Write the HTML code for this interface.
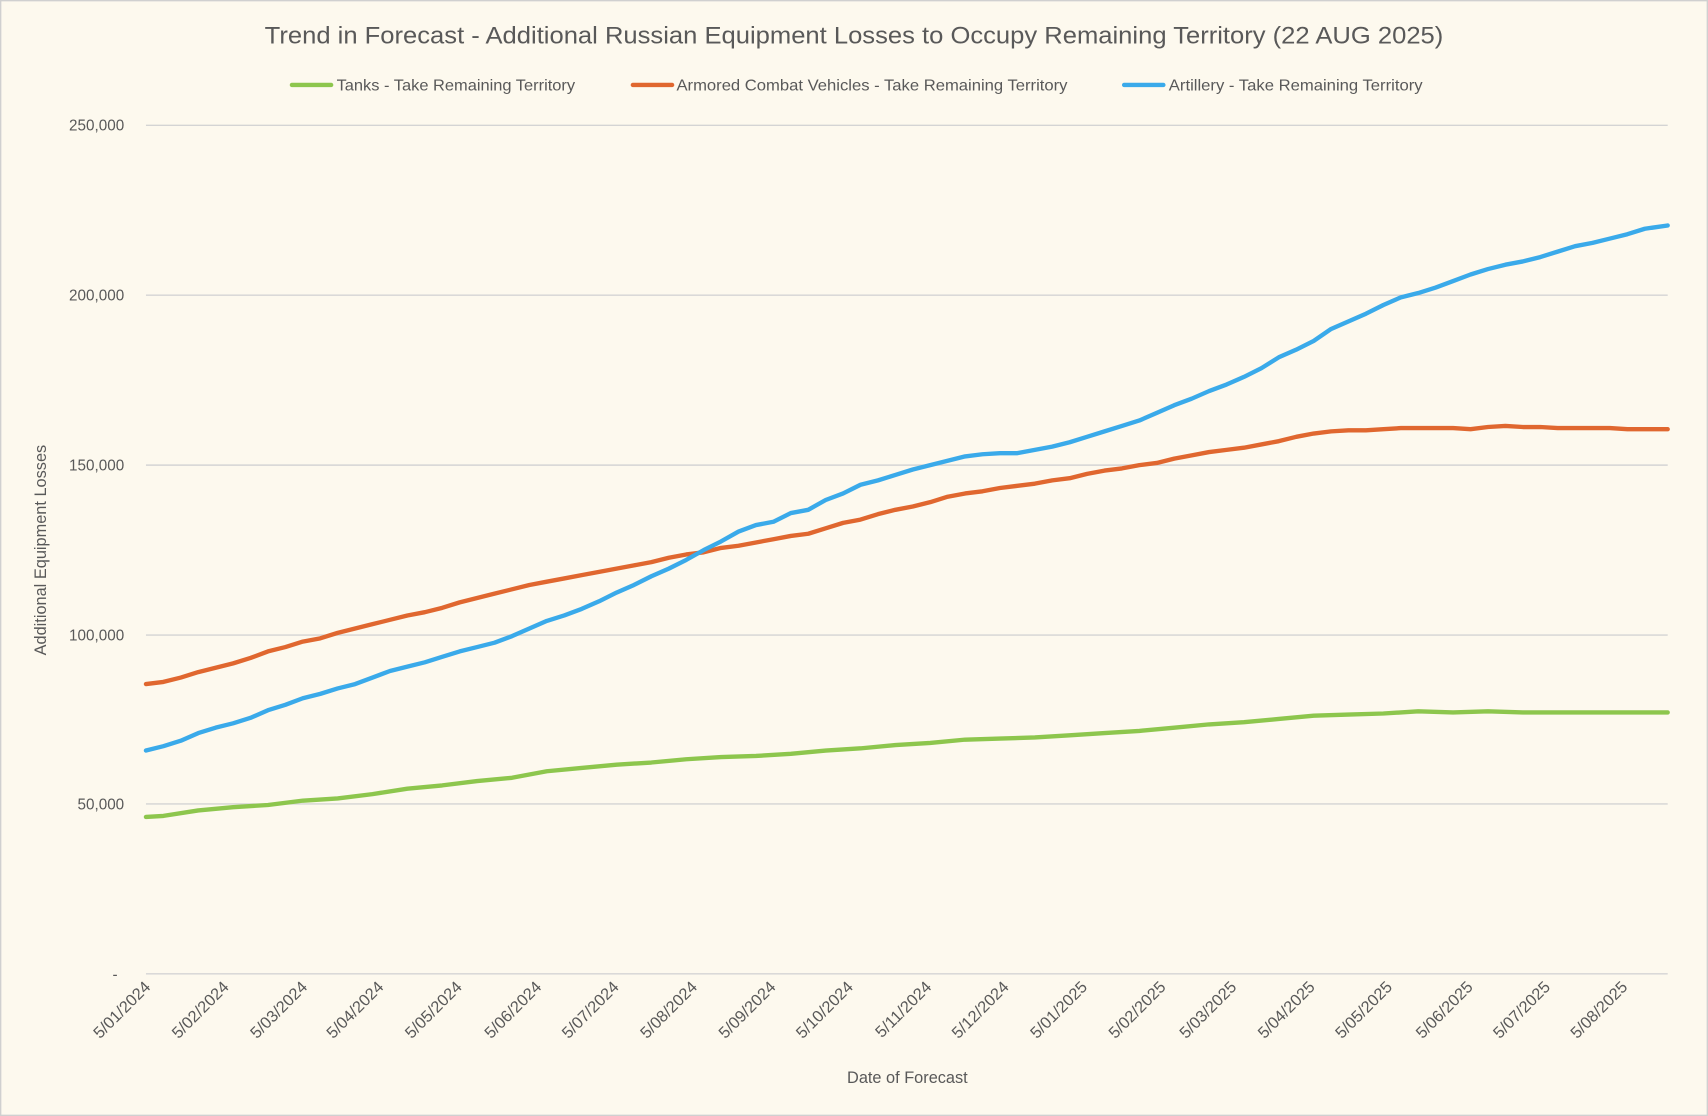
<!DOCTYPE html>
<html><head><meta charset="utf-8"><style>
html,body{margin:0;padding:0;background:#fdf9ee;}
svg{display:block}
text{font-family:"Liberation Sans",sans-serif;fill:#595959}
</style></head><body>
<svg width="1708" height="1116" viewBox="0 0 1568 1024.5" preserveAspectRatio="none">
<rect x="0.5" y="0.5" width="1567" height="1023.5" fill="#fdf9ee" stroke="#d0d0d0" stroke-width="1.5"/>
<text x="784" y="40" font-size="22" text-anchor="middle" textLength="1082" lengthAdjust="spacingAndGlyphs">Trend in Forecast - Additional Russian Equipment Losses to Occupy Remaining Territory (22 AUG 2025)</text>
<g stroke-width="4" stroke-linecap="round">
<line x1="268" y1="78" x2="304" y2="78" stroke="#8dc64d"/>
<line x1="581" y1="78" x2="617" y2="78" stroke="#e0672f"/>
<line x1="1032" y1="78" x2="1068" y2="78" stroke="#3aaaea"/>
</g>
<g font-size="14.5">
<text x="309" y="83" textLength="219" lengthAdjust="spacingAndGlyphs">Tanks - Take Remaining Territory</text>
<text x="621" y="83" textLength="359" lengthAdjust="spacingAndGlyphs">Armored Combat Vehicles - Take Remaining Territory</text>
<text x="1073" y="83" textLength="233" lengthAdjust="spacingAndGlyphs">Artillery - Take Remaining Territory</text>
</g>
<g stroke="#d4d4d4" stroke-width="1.3">
<line x1="134" y1="115" x2="1531" y2="115"/>
<line x1="134" y1="271" x2="1531" y2="271"/>
<line x1="134" y1="427" x2="1531" y2="427"/>
<line x1="134" y1="583" x2="1531" y2="583"/>
<line x1="134" y1="738" x2="1531" y2="738"/>
<line x1="134" y1="894" x2="1531" y2="894"/>
</g>
<g font-size="14" text-anchor="end">
<text x="114" y="120">250,000</text>
<text x="114" y="276">200,000</text>
<text x="114" y="432">150,000</text>
<text x="114" y="588">100,000</text>
<text x="114" y="743">50,000</text>
<text x="108" y="899">-</text>
</g>
<text x="0" y="0" font-size="15" text-anchor="middle" transform="translate(42,505) rotate(-90)">Additional Equipment Losses</text>
<text x="833" y="994" font-size="15" text-anchor="middle">Date of Forecast</text>
<g font-size="15" text-anchor="end">
<text transform="translate(139,907) rotate(-45)">5/01/2024</text>
<text transform="translate(211,907) rotate(-45)">5/02/2024</text>
<text transform="translate(283,907) rotate(-45)">5/03/2024</text>
<text transform="translate(353,907) rotate(-45)">5/04/2024</text>
<text transform="translate(425,907) rotate(-45)">5/05/2024</text>
<text transform="translate(498,907) rotate(-45)">5/06/2024</text>
<text transform="translate(569,907) rotate(-45)">5/07/2024</text>
<text transform="translate(641,907) rotate(-45)">5/08/2024</text>
<text transform="translate(713,907) rotate(-45)">5/09/2024</text>
<text transform="translate(784,907) rotate(-45)">5/10/2024</text>
<text transform="translate(856,907) rotate(-45)">5/11/2024</text>
<text transform="translate(927,907) rotate(-45)">5/12/2024</text>
<text transform="translate(999,907) rotate(-45)">5/01/2025</text>
<text transform="translate(1071,907) rotate(-45)">5/02/2025</text>
<text transform="translate(1136,907) rotate(-45)">5/03/2025</text>
<text transform="translate(1208,907) rotate(-45)">5/04/2025</text>
<text transform="translate(1279,907) rotate(-45)">5/05/2025</text>
<text transform="translate(1353,907) rotate(-45)">5/06/2025</text>
<text transform="translate(1424,907) rotate(-45)">5/07/2025</text>
<text transform="translate(1495,907) rotate(-45)">5/08/2025</text>
</g>
<g fill="none" stroke-width="4" stroke-linejoin="round" stroke-linecap="round">
<polyline stroke="#8dc64d" points="134,750 150,749 182,744 214,741 246,739 278,735 310,733 342,729 374,724 406,721 438,717 470,714 502,708 534,705 566,702 598,700 630,697 662,695 694,694 726,692 758,689 790,687 822,684 854,682 886,679 918,678 950,677 982,675 1014,673 1046,671 1078,668 1110,665 1142,663 1174,660 1206,657 1238,656 1270,655 1302,653 1334,654 1366,653 1398,654 1430,654 1531,654"/>
<polyline stroke="#e0672f" points="134,628 150,626 166,622 182,617 198,613 214,609 230,604 246,598 262,594 278,589 294,586 310,581 326,577 342,573 358,569 374,565 390,562 406,558 422,553 438,549 454,545 470,541 486,537 502,534 518,531 534,528 550,525 566,522 582,519 598,516 614,512 630,509 646,507 662,503 678,501 694,498 710,495 726,492 742,490 758,485 774,480 790,477 806,472 822,468 838,465 854,461 870,456 886,453 902,451 918,448 934,446 950,444 966,441 982,439 998,435 1014,432 1030,430 1046,427 1062,425 1078,421 1094,418 1110,415 1126,413 1142,411 1158,408 1174,405 1190,401 1206,398 1222,396 1238,395 1254,395 1270,394 1286,393 1302,393 1318,393 1334,393 1350,394 1366,392 1382,391 1398,392 1414,392 1430,393 1446,393 1462,393 1478,393 1494,394 1510,394 1531,394"/>
<polyline stroke="#3aaaea" points="134,689 150,685 166,680 182,673 198,668 214,664 230,659 246,652 262,647 278,641 294,637 310,632 326,628 342,622 358,616 374,612 390,608 406,603 422,598 438,594 454,590 470,584 486,577 502,570 518,565 534,559 550,552 566,544 582,537 598,529 614,522 630,514 646,505 662,497 678,488 694,482 710,479 726,471 742,468 758,459 774,453 790,445 806,441 822,436 838,431 854,427 870,423 886,419 902,417 918,416 934,416 950,413 966,410 982,406 998,401 1014,396 1030,391 1046,386 1062,379 1078,372 1094,366 1110,359 1126,353 1142,346 1158,338 1174,328 1190,321 1206,313 1222,302 1238,295 1254,288 1270,280 1286,273 1302,269 1318,264 1334,258 1350,252 1366,247 1382,243 1398,240 1414,236 1430,231 1446,226 1462,223 1478,219 1494,215 1510,210 1531,207"/>
</g>
</svg>
</body></html>
